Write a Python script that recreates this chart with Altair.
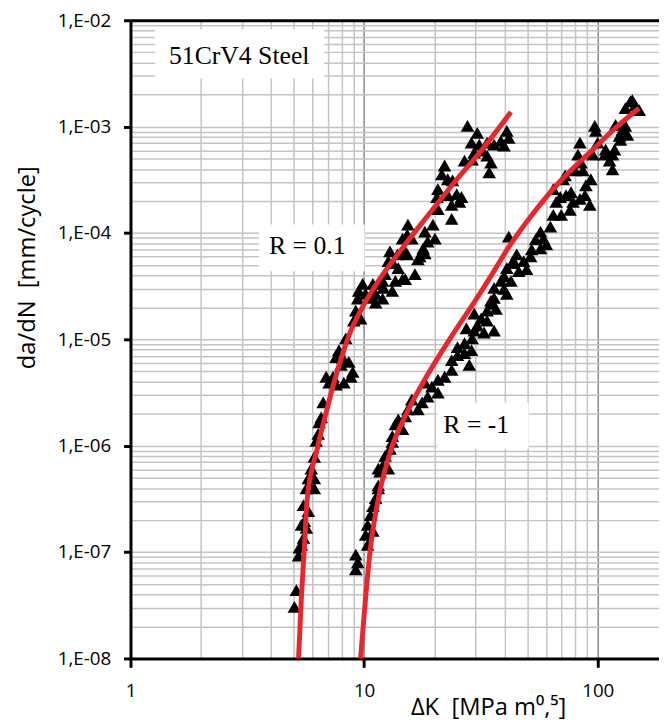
import altair as alt
import pandas as pd

# ---------------- data ----------------
# R = 0.1 measurements (dK in MPa m^0.5, da/dN in mm/cycle)
r01_dk = [27.7, 30.5, 28.8, 31.1, 33.6, 36.0, 38.5, 40.8, 41.6, 39.7,
          29.6, 32.0, 33.6, 26.9, 29.0, 34.9, 34.3, 22.1, 21.5, 22.8,
          23.9, 20.7, 20.5, 22.8, 24.9, 25.6, 23.7, 26.1, 20.7, 23.7,
          15.4, 15.3, 16.0, 14.6, 18.2, 19.7, 20.1, 18.7, 17.9, 17.3,
          15.0, 13.9, 12.9, 12.7, 13.3, 14.0, 14.6, 13.6, 12.3, 12.0,
          16.5, 10.9, 11.2, 10.5, 9.85, 9.48, 9.39, 9.21, 9.66, 9.03,
          15.3, 17.0, 18.2, 15.0, 11.5, 12.1, 11.0, 13.2, 10.15, 11.2,
          12.0, 8.35, 7.80, 7.58, 8.11, 8.60, 7.96, 6.88, 7.36, 7.08,
          7.58, 8.19, 8.94, 8.77, 6.68, 6.55, 6.42, 6.36, 6.24, 6.12,
          5.94, 5.77, 5.66, 6.12, 5.83, 6.12, 5.50, 5.77, 5.55, 5.39,
          5.66, 5.50, 5.39, 5.28, 5.24, 5.13, 5.03]
r01_da = [1.015e-3, 8.74e-4, 7.06e-4, 6.76e-4, 7.06e-4, 6.76e-4, 7.36e-4, 9.12e-4, 7.85e-4, 6.62e-4,
          5.70e-4, 5.95e-4, 5.34e-4, 4.80e-4, 4.91e-4, 4.60e-4, 3.72e-4, 4.31e-4, 3.56e-4, 3.20e-4,
          3.13e-4, 2.58e-4, 2.18e-4, 2.27e-4, 2.32e-4, 1.96e-4, 1.84e-4, 2.18e-4, 1.68e-4, 1.36e-4,
          1.20e-4, 9.66e-5, 8.87e-5, 8.87e-5, 1.03e-4, 1.20e-4, 8.87e-5, 8.32e-5, 7.16e-5, 6.04e-5,
          6.72e-5, 6.30e-5, 6.72e-5, 5.43e-5, 5.20e-5, 4.67e-5, 3.69e-5, 3.54e-5, 4.11e-5, 3.54e-5,
          4.11e-5, 3.32e-5, 2.68e-5, 2.46e-5, 3.32e-5, 2.86e-5, 2.41e-5, 1.86e-5, 1.57e-5, 1.50e-5,
          6.30e-5, 5.66e-5, 6.44e-5, 3.69e-5, 3.32e-5, 3.05e-5, 2.74e-5, 2.86e-5, 2.68e-5, 2.21e-5,
          2.41e-5, 1.02e-5, 7.92e-6, 6.82e-6, 6.68e-6, 6.13e-6, 5.75e-6, 4.45e-6, 4.45e-6, 3.91e-6,
          3.75e-6, 3.91e-6, 4.95e-6, 4.45e-6, 2.55e-6, 1.85e-6, 1.66e-6, 1.29e-6, 1.11e-6, 7.87e-7,
          6.09e-7, 4.92e-7, 3.97e-7, 4.92e-7, 4.23e-7, 3.97e-7, 2.76e-7, 2.43e-7, 1.96e-7, 1.80e-7,
          1.69e-7, 1.36e-7, 1.17e-7, 1.10e-7, 9.28e-8, 4.39e-8, 3.05e-8]

# R = -1 measurements
rm1_dk = [137.9, 144.7, 131.3, 150.5, 140.6, 119.2, 127.6, 131.3, 123.9, 125.1,
          134.0, 97.1, 98.1, 100.0, 108.1, 115.7, 118.0, 107.1, 112.4, 115.7,
          95.3, 83.9, 82.3, 84.8, 79.9, 86.4, 93.4, 89.0, 88.1, 92.5,
          83.9, 72.5, 71.1, 64.5, 69.1, 66.4, 73.2, 76.9, 78.4, 69.8,
          76.1, 64.5, 62.7, 56.9, 54.2, 58.5, 60.3, 56.9, 52.1, 41.6,
          45.0, 48.2, 51.6, 49.6, 45.9, 42.9, 40.8, 39.7, 42.5, 38.5,
          36.0, 39.7, 40.8, 36.0, 34.9, 33.6, 29.6, 31.7, 33.6, 30.5,
          27.4, 43.7, 36.7, 34.9, 32.6, 36.0, 29.6, 29.0, 26.9, 25.1,
          28.8, 28.2, 26.9, 25.1, 23.7, 23.7, 22.1, 20.7, 19.5, 20.7,
          18.2, 18.7, 17.7, 17.0, 16.0, 15.4, 15.0, 14.0, 13.6, 14.6,
          13.2, 13.2, 12.9, 12.3, 12.0, 11.7, 11.5, 12.7, 11.5, 11.5,
          11.2, 10.9, 10.65, 10.35, 10.9, 10.15, 10.35, 9.21, 9.39, 9.21]
rm1_da = [1.73e-3, 1.59e-3, 1.49e-3, 1.43e-3, 1.77e-3, 1.04e-3, 9.32e-4, 1.015e-3, 8.19e-4, 7.52e-4,
          8.37e-4, 1.015e-3, 9.12e-4, 7.06e-4, 6.08e-4, 5.46e-4, 6.08e-4, 5.46e-4, 4.80e-4, 3.96e-4,
          5.46e-4, 7.06e-4, 5.46e-4, 4.60e-4, 3.88e-4, 3.88e-4, 3.20e-4, 2.81e-4, 2.27e-4, 1.84e-4,
          2.09e-4, 3.48e-4, 3.20e-4, 2.58e-4, 2.18e-4, 1.96e-4, 2.27e-4, 2.42e-4, 1.96e-4, 1.48e-4,
          1.65e-4, 1.48e-4, 1.15e-4, 1.03e-4, 8.69e-5, 8.87e-5, 7.80e-5, 7.16e-5, 7.01e-5, 9.26e-5,
          6.30e-5, 5.43e-5, 6.04e-5, 4.57e-5, 4.38e-5, 5.20e-5, 4.67e-5, 3.94e-5, 3.54e-5, 3.54e-5,
          3.05e-5, 2.98e-5, 2.68e-5, 2.46e-5, 2.16e-5, 1.86e-5, 1.75e-5, 1.57e-5, 1.50e-5, 1.35e-5,
          1.27e-5, 5.43e-5, 1.94e-5, 2.31e-5, 1.16e-5, 1.21e-5, 1.21e-5, 1.02e-5, 9.20e-6, 8.44e-6,
          7.92e-6, 5.75e-6, 7.43e-6, 7.12e-6, 6.39e-6, 5.16e-6, 4.45e-6, 4.17e-6, 3.59e-6, 3.16e-6,
          3.91e-6, 2.90e-6, 2.55e-6, 2.20e-6, 2.72e-6, 2.20e-6, 1.89e-6, 1.77e-6, 1.59e-6, 1.43e-6,
          1.23e-6, 1.085e-6, 9.34e-7, 8.04e-7, 6.49e-7, 5.71e-7, 4.23e-7, 6.09e-7, 6.09e-7, 3.97e-7,
          3.21e-7, 2.70e-7, 2.23e-7, 1.80e-7, 1.58e-7, 1.45e-7, 1.17e-7, 9.48e-8, 7.99e-8, 6.88e-8]

# fitted curves (red)
fit01_dk = [5.24, 5.39, 5.55, 5.71, 6.30, 6.81, 7.43, 8.19, 8.68, 9.76,
            11.52, 14.55, 18.56, 24.37, 32.0, 42.5]
fit01_da = [1.0e-8, 3.78e-8, 1.10e-7, 3.21e-7, 9.34e-7, 1.89e-6, 3.91e-6, 7.92e-6, 1.14e-5, 1.94e-5,
            3.54e-5, 7.16e-5, 1.42e-4, 3.0e-4, 6.08e-4, 1.37e-3]
fitm1_dk = [9.66, 10.15, 10.65, 11.52, 13.07, 14.98, 17.85, 21.69, 24.14, 29.91,
            35.97, 41.23, 51.58, 68.4, 95.3, 119.2, 150.5]
fitm1_da = [1.0e-8, 3.78e-8, 1.10e-7, 3.21e-7, 9.34e-7, 1.89e-6, 3.91e-6, 7.92e-6, 1.14e-5, 2.31e-5,
            4.38e-5, 7.16e-5, 1.42e-4, 3.0e-4, 6.08e-4, 9.73e-4, 1.49e-3]

# grid / tick values (log decades with minor steps)
x_grid_values = [1, 2, 3, 4, 5, 6, 7, 8, 9, 10, 20, 30, 40, 50, 60, 70, 80, 90, 100]
y_grid_values = [k * 10.0 ** e for e in range(-8, -2) for k in range(1, 10)] + [1e-2]

# annotations
ann_text = ["51CrV4 Steel", "R = 0.1", "R = -1"]
ann_x = [2.92, 5.71, 30.2]
ann_y = [4.63e-3, 7.47e-5, 1.56e-6]
box_x1 = [1.276, 3.55, 20.5]
box_x2 = [6.74, 10.05, 50.6]
box_y1 = [8.25e-3, 1.20e-4, 2.55e-6]
box_y2 = [2.83e-3, 4.38e-5, 9.34e-7]

XMAX = 182.9
SP = "\u00a0\u00a0"

# ---------------- tables ----------------
pts = pd.DataFrame({
    "dk": r01_dk + rm1_dk,
    "da": r01_da + rm1_da,
    "series": ["R = 0.1"] * len(r01_dk) + ["R = -1"] * len(rm1_dk),
})
fits = pd.DataFrame({
    "dk": fit01_dk + fitm1_dk,
    "da": fit01_da + fitm1_da,
    "series": ["R = 0.1"] * len(fit01_dk) + ["R = -1"] * len(fitm1_dk),
})
ann = pd.DataFrame({"label": ann_text, "x": ann_x, "y": ann_y,
                    "x1": box_x1, "x2": box_x2, "y1": box_y1, "y2": box_y2})

dec = "abs(log(datum.value)/LN10 - round(log(datum.value)/LN10)) < 0.001"

xs = alt.Scale(type="log", domain=[1, XMAX], nice=False)
ys = alt.Scale(type="log", domain=[1e-8, 1e-2], nice=False)

x_axis = alt.Axis(
    values=x_grid_values,
    labelExpr=f"({dec}) ? format(datum.value, 'd') : ''",
    labelOverlap=False, labelFlush=False,
    labelFont="Open Sans", labelFontSize=19, labelColor="black", labelPadding=15,
    tickSize=9, tickWidth=3, tickColor="black",
    tickOpacity={"condition": {"test": dec, "value": 1}, "value": 0},
    domainColor="black", domainWidth=3,
    grid=True, gridWidth=1.5,
    gridColor={"condition": {"test": dec, "value": "#8a8a8a"}, "value": "#c4c4c4"},
    title=f"ΔK{SP}[MPa m⁰,⁵]", titleFont="Open Sans", titleFontSize=24,
    titleFontWeight="normal", titleColor="black",
    titleX=362, titleY=57, titleAlign="center", titleBaseline="alphabetic",
)
y_axis = alt.Axis(
    values=y_grid_values,
    labelExpr=f"({dec}) ? '1,E-0' + round(-log(datum.value)/LN10) : ''",
    labelOverlap=False, labelFlush=False,
    labelFont="Open Sans", labelFontSize=19, labelColor="black", labelPadding=13,
    tickSize=7, tickWidth=3, tickColor="black",
    tickOpacity={"condition": {"test": dec, "value": 1}, "value": 0},
    domainColor="black", domainWidth=3,
    grid=True, gridWidth=1.5, gridColor="#c4c4c4",
    title=f"da/dN{SP}[mm/cycle]", titleFont="Open Sans", titleFontSize=24,
    titleFontWeight="normal", titleColor="black",
    titleX=-104, titleY=250, titleAngle=-90, titleAlign="center", titleBaseline="middle",
)
top_axis = alt.Axis(orient="top", labels=False, ticks=False, grid=False, title=None,
                    domainColor="black", domainWidth=3)

boxes = alt.Chart(ann).mark_rect(color="white").encode(
    x=alt.X("x1:Q", scale=xs, axis=None), x2="x2:Q",
    y=alt.Y("y1:Q", scale=ys, axis=None), y2="y2:Q",
)
texts = alt.Chart(ann).mark_text(font="Liberation Serif", fontSize=26, color="black").encode(
    x=alt.X("x:Q", scale=xs, axis=None),
    y=alt.Y("y:Q", scale=ys, axis=None),
    text="label:N",
)
lines = alt.Chart(fits).mark_line(color="#e8262b", strokeWidth=5, interpolate="monotone").encode(
    x=alt.X("dk:Q", scale=xs, axis=top_axis),
    y=alt.Y("da:Q", scale=ys, axis=None),
    detail="series:N",
)
scatter = alt.Chart(pts).mark_point(shape="triangle-up", filled=True, color="black",
                                    opacity=1, size=190).encode(
    x=alt.X("dk:Q", scale=xs, axis=x_axis),
    y=alt.Y("da:Q", scale=ys, axis=y_axis),
)

chart = alt.layer(scatter, boxes, texts, lines).resolve_axis(
    x="independent", y="independent"
).properties(
    width=535, height=646,
    padding={"left": 124, "top": 8, "right": 0, "bottom": 66},
    autosize=alt.AutoSizeParams(type="none"),
).configure_view(stroke=None)

chart.save("out.html", embed_options={"renderer": "svg", "actions": False})
